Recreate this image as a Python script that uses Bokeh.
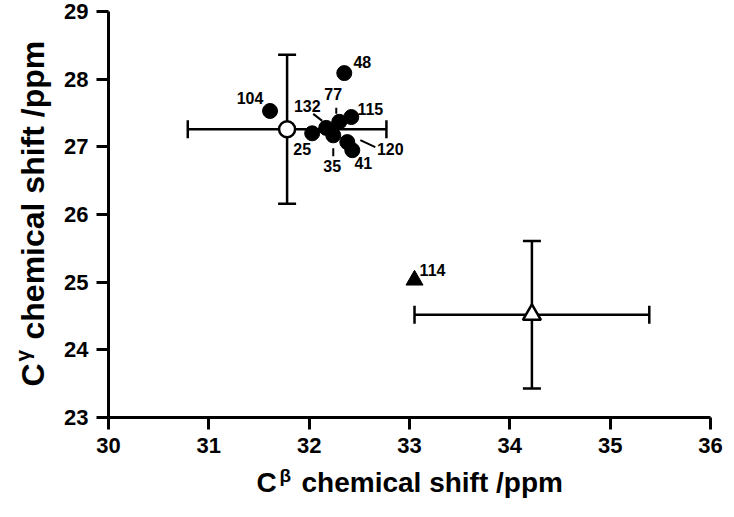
import math
from bokeh.plotting import figure
from bokeh.layouts import row, column
from bokeh.models import ColumnDataSource, Whisker, TeeHead, Range1d, FixedTicker, Label
from bokeh.embed import file_html
from bokeh.resources import INLINE
from bokeh.core.properties import value

# Residue C-beta / C-gamma chemical shifts (ppm), filled circles
residues = ["25", "132", "35", "77", "115", "120", "41", "48", "104"]
cb_shift = [32.03, 32.17, 32.24, 32.30, 32.42, 32.38, 32.43, 32.35, 31.61]
cg_shift = [27.20, 27.28, 27.17, 27.37, 27.44, 27.07, 26.95, 28.09, 27.53]

# Residue plotted as a filled triangle
tri_residues = ["114"]
tri_cb = [33.05]
tri_cg = [25.03]

# Reference values (mean and standard deviation)
ref_circle_cb, ref_circle_cb_sd = 31.78, 0.99
ref_circle_cg, ref_circle_cg_sd = 27.26, 1.10
ref_tri_cb, ref_tri_cb_sd = 34.22, 1.17
ref_tri_cg, ref_tri_cg_sd = 24.52, 1.09

x_ticks = [30, 31, 32, 33, 34, 35, 36]
y_ticks = [23, 24, 25, 26, 27, 28, 29]

x_title = ("C", "\u03b2", "chemical shift /ppm")
y_title = ("C", "\u03b3", "chemical shift /ppm")

# label placement in screen pixels (right, down) relative to each point
label_offsets = {
    "25": (-10, 16), "132": (-19, -22), "35": (-1, 31), "77": (-6, -28),
    "115": (19, -8), "120": (43, 7), "41": (11, 13), "48": (18, -11),
    "104": (-20, -13), "114": (18, -10),
}
# leader lines (start, end) in screen pixels relative to the point
leaders = {
    "132": ((-13, -14), (-4, -7)),
    "77": ((-3, -14), (-3, -8)),
    "35": ((0, 13), (0, 21)),
    "120": ((13, -2), (28, 5)),
}

W, H = 734, 517
YT_W = 60            # strip holding the vertical axis title
XT_H = 54            # strip holding the horizontal axis title
MAIN_W, MAIN_H = W - YT_W, H - XT_H
LEFT, RIGHT, TOP, BOTTOM = 48, 24, 11, 46
x0, x1 = x_ticks[0], x_ticks[-1]
y0, y1 = y_ticks[0], y_ticks[-1]
px_x = (MAIN_W - LEFT - RIGHT) / (x1 - x0)
px_y = (MAIN_H - TOP - BOTTOM) / (y1 - y0)

FONT = "Liberation Sans"

p = figure(width=MAIN_W, height=MAIN_H, output_backend="svg", toolbar_location=None,
           x_range=Range1d(x0, x1), y_range=Range1d(y0, y1),
           min_border_left=LEFT, min_border_right=RIGHT,
           min_border_top=TOP, min_border_bottom=BOTTOM)
p.outline_line_color = None
p.grid.visible = False
p.background_fill_color = "white"
p.border_fill_color = "white"

for ax in (p.xaxis[0], p.yaxis[0]):
    ax.axis_line_width = 3
    ax.major_tick_line_width = 3
    ax.major_tick_out = 12
    ax.major_tick_in = 0
    ax.minor_tick_line_color = None
    ax.major_label_text_font = FONT
    ax.major_label_text_font_style = "bold"
    ax.major_label_text_font_size = "22px"
    ax.major_label_text_color = "black"
    ax.axis_line_color = "black"
    ax.major_tick_line_color = "black"

p.xaxis.ticker = FixedTicker(ticks=x_ticks)
p.yaxis.ticker = FixedTicker(ticks=y_ticks)
p.xaxis.major_label_standoff = 8
p.yaxis.major_label_standoff = 8


# error bars for the two reference points
def add_errorbars(cx, sx, cy, sy):
    specs = (
        (dict(base=[cy], lower=[cx - sx], upper=[cx + sx]), "width"),
        (dict(base=[cx], lower=[cy - sy], upper=[cy + sy]), "height"),
    )
    for data, dim in specs:
        p.add_layout(Whisker(
            source=ColumnDataSource(data), base="base", lower="lower",
            upper="upper", dimension=dim, line_width=2.5, line_color="black",
            upper_head=TeeHead(size=18, line_width=2.5, line_color="black"),
            lower_head=TeeHead(size=18, line_width=2.5, line_color="black")))


add_errorbars(ref_circle_cb, ref_circle_cb_sd, ref_circle_cg, ref_circle_cg_sd)
add_errorbars(ref_tri_cb, ref_tri_cb_sd, ref_tri_cg, ref_tri_cg_sd)

# leader lines from labels to crowded points
lx0, ly0, lx1, ly1 = [], [], [], []
for name, ((ax_, ay_), (bx_, by_)) in leaders.items():
    i = residues.index(name)
    lx0.append(cb_shift[i] + ax_ / px_x)
    ly0.append(cg_shift[i] - ay_ / px_y)
    lx1.append(cb_shift[i] + bx_ / px_x)
    ly1.append(cg_shift[i] - by_ / px_y)
p.segment(lx0, ly0, lx1, ly1, line_color="black", line_width=2)

# residue markers
p.scatter(cb_shift, cg_shift, marker="circle", size=15,
          fill_color="black", line_color="black")
p.scatter(tri_cb, tri_cg, marker="triangle", size=17,
          fill_color="black", line_color="black")

# reference markers
p.scatter([ref_circle_cb], [ref_circle_cg], marker="circle", size=16,
          fill_color="white", line_color="black", line_width=2.5)
p.scatter([ref_tri_cb], [ref_tri_cg], marker="triangle", size=18,
          fill_color="white", line_color="black", line_width=2.5)

# residue number labels
all_names = residues + tri_residues
all_x = cb_shift + tri_cb
all_y = cg_shift + tri_cg
lab = ColumnDataSource(dict(
    x=all_x, y=all_y, text=all_names,
    dx=[label_offsets[n][0] for n in all_names],
    dy=[label_offsets[n][1] for n in all_names],
))
p.text(x="x", y="y", text="text", x_offset="dx", y_offset="dy", source=lab,
       text_font=value(FONT), text_font_style="bold", text_font_size="16px",
       text_align="center", text_baseline="middle", text_color="black")


# Strips for the axis titles.  Their ranges are set so that data units equal
# page pixels: x measured from the page's left edge, y from the strip bottom.
def title_strip(w, h, xr, **borders):
    f = figure(width=w, height=h, output_backend="svg", toolbar_location=None,
               x_range=Range1d(*xr), y_range=Range1d(0, h),
               x_axis_type=None, y_axis_type=None, min_border=0, **borders)
    f.outline_line_color = None
    f.grid.visible = False
    f.background_fill_color = "white"
    f.border_fill_color = "white"
    return f


def title_part(f, text, sx, sy, size, angle=0.0):
    # sx: page x in pixels; sy: pixels below the strip's top edge
    f.add_layout(Label(x=sx, y=f.height - sy, text=text, angle=angle,
                       text_font=FONT, text_font_style="bold",
                       text_font_size=size, text_color="black",
                       text_align="left", text_baseline="alphabetic"))


# the bottom strip's frame lines up with the plot frame (page x 108..710)
xt = title_strip(MAIN_W, XT_H, (YT_W + LEFT, W - RIGHT),
                 min_border_left=LEFT, min_border_right=RIGHT)
title_part(xt, x_title[0], 256, 19, "28px")
title_part(xt, x_title[1], 279, 12, "19px")
title_part(xt, x_title[2], 301, 19, "28px")

yt = title_strip(YT_W, H, (0, YT_W))
rot = math.pi / 2
title_part(yt, y_title[0], 32, 386, "32px", rot)
title_part(yt, y_title[1], 22, 361, "21px", rot)
title_part(yt, y_title[2], 32, 339, "32px", rot)

layout = row(yt, column(p, xt, spacing=0), spacing=0)

open("out.html", "w").write(file_html(layout, INLINE))
